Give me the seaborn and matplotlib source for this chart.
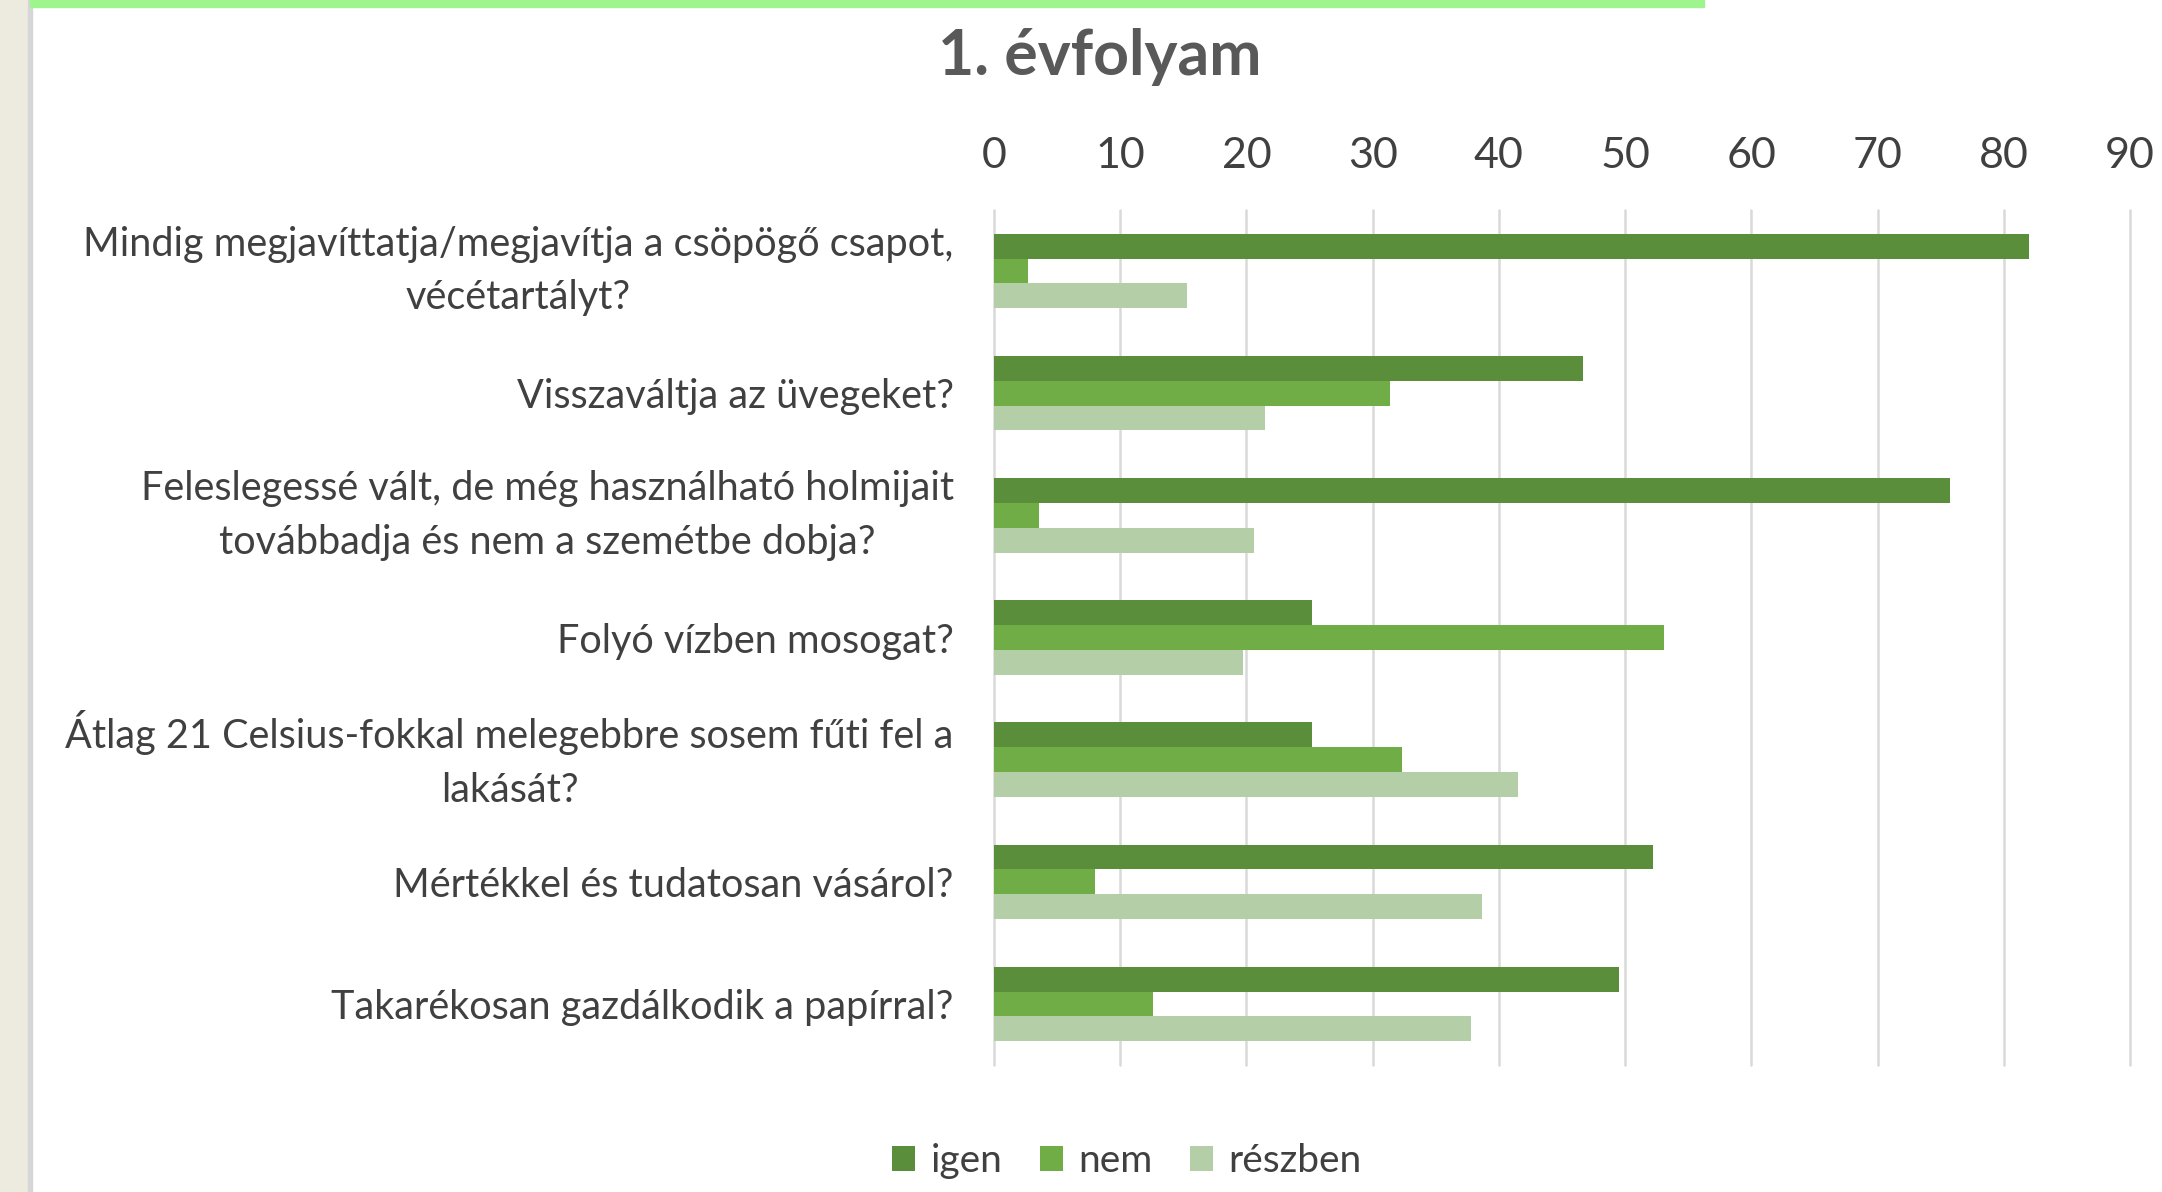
import pandas as pd
import matplotlib.pyplot as plt
import seaborn as sns
from matplotlib.patches import Rectangle

# Chart data
kerdesek = [
    "Mindig megjavíttatja/megjavítja a csöpögő csapot,\nvécétartályt?",
    "Visszaváltja az üvegeket?",
    "Feleslegessé vált, de még használható holmijait\ntovábbadja és nem a szemétbe dobja?",
    "Folyó vízben mosogat?",
    "Átlag 21 Celsius-fokkal melegebbre sosem fűti fel a\nlakását?",
    "Mértékkel és tudatosan vásárol?",
    "Takarékosan gazdálkodik a papírral?",
]
valaszok = ["igen", "nem", "részben"]
igen = [82.0, 46.7, 75.7, 25.2, 25.2, 52.2, 49.5]
nem = [2.7, 31.4, 3.6, 53.1, 32.3, 8.0, 12.6]
reszben = [15.3, 21.5, 20.6, 19.7, 41.5, 38.7, 37.8]
x_ticks = [0, 10, 20, 30, 40, 50, 60, 70, 80, 90]

szinek = ["#5B8E3A", "#70AD47", "#B4CFA7"]

# Long format table for seaborn
rows = []
for valasz, ertekek in zip(valaszok, [igen, nem, reszben]):
    for kerdes, ertek in zip(kerdesek, ertekek):
        rows.append({"kérdés": kerdes, "válasz": valasz, "érték": ertek})
df = pd.DataFrame(rows)

sns.set_theme(style="white")
plt.rcParams["font.family"] = ["Lato", "DejaVu Sans"]

W, H = 2162, 1192
fig = plt.figure(figsize=(W / 100, H / 100), dpi=100)
ax = fig.add_axes([994 / W, 1 - 1065 / H, (2130 - 994) / W, (1065 - 210) / H])

sns.barplot(data=df, x="érték", y="kérdés", hue="válasz", order=kerdesek,
            hue_order=valaszok, orient="h", palette=szinek, saturation=1,
            width=0.61, linewidth=0, ax=ax)

handles, labels = ax.get_legend_handles_labels()
ax.get_legend().remove()

ax.set_xlim(0, 90)
ax.set_ylim(6.5, -0.5)
ax.set_xticks(x_ticks)
ax.xaxis.tick_top()
ax.set_xlabel("")
ax.set_ylabel("")
ax.set_axisbelow(True)
ax.grid(axis="x", color="#D9D9D9", linewidth=1.8)
ax.grid(axis="y", visible=False)
for spine in ax.spines.values():
    spine.set_visible(False)
for line in ax.get_xgridlines():
    line.set_clip_on(False)

ax.tick_params(axis="x", length=0, pad=25, labelsize=31, labelcolor="#404040")
ax.tick_params(axis="y", length=0, pad=29, labelsize=28.5, labelcolor="#404040")
for lab in ax.get_yticklabels():
    lab.set_multialignment("center")
    lab.set_linespacing(1.55)
    if "\n" in lab.get_text():
        lab.set_verticalalignment("center")

fig.text(1100 / W, 1 - 57 / H, "1. évfolyam", ha="center", va="center",
         fontsize=45, fontweight="bold", color="#595959")

fig.legend(handles, labels, loc="center", bbox_to_anchor=(1127 / W, 1 - 1161 / H),
           ncol=3, frameon=False, fontsize=28, handlelength=0.6, handleheight=0.6,
           handletextpad=0.4, columnspacing=0.95, labelcolor="#404040")

# Window decorations around the chart
fig.patches.append(Rectangle((0, 0), 28 / W, 1, transform=fig.transFigure,
                             color="#EDEBE0", zorder=0))
fig.patches.append(Rectangle((28 / W, 0), 4 / W, 1, transform=fig.transFigure,
                             color="#D6D6D6", zorder=0))
fig.patches.append(Rectangle((30 / W, 1 - 7 / H), (1704 - 30) / W, 7 / H,
                             transform=fig.transFigure, color="#9EF58E", zorder=0))

fig.savefig("out.png", dpi=100)
